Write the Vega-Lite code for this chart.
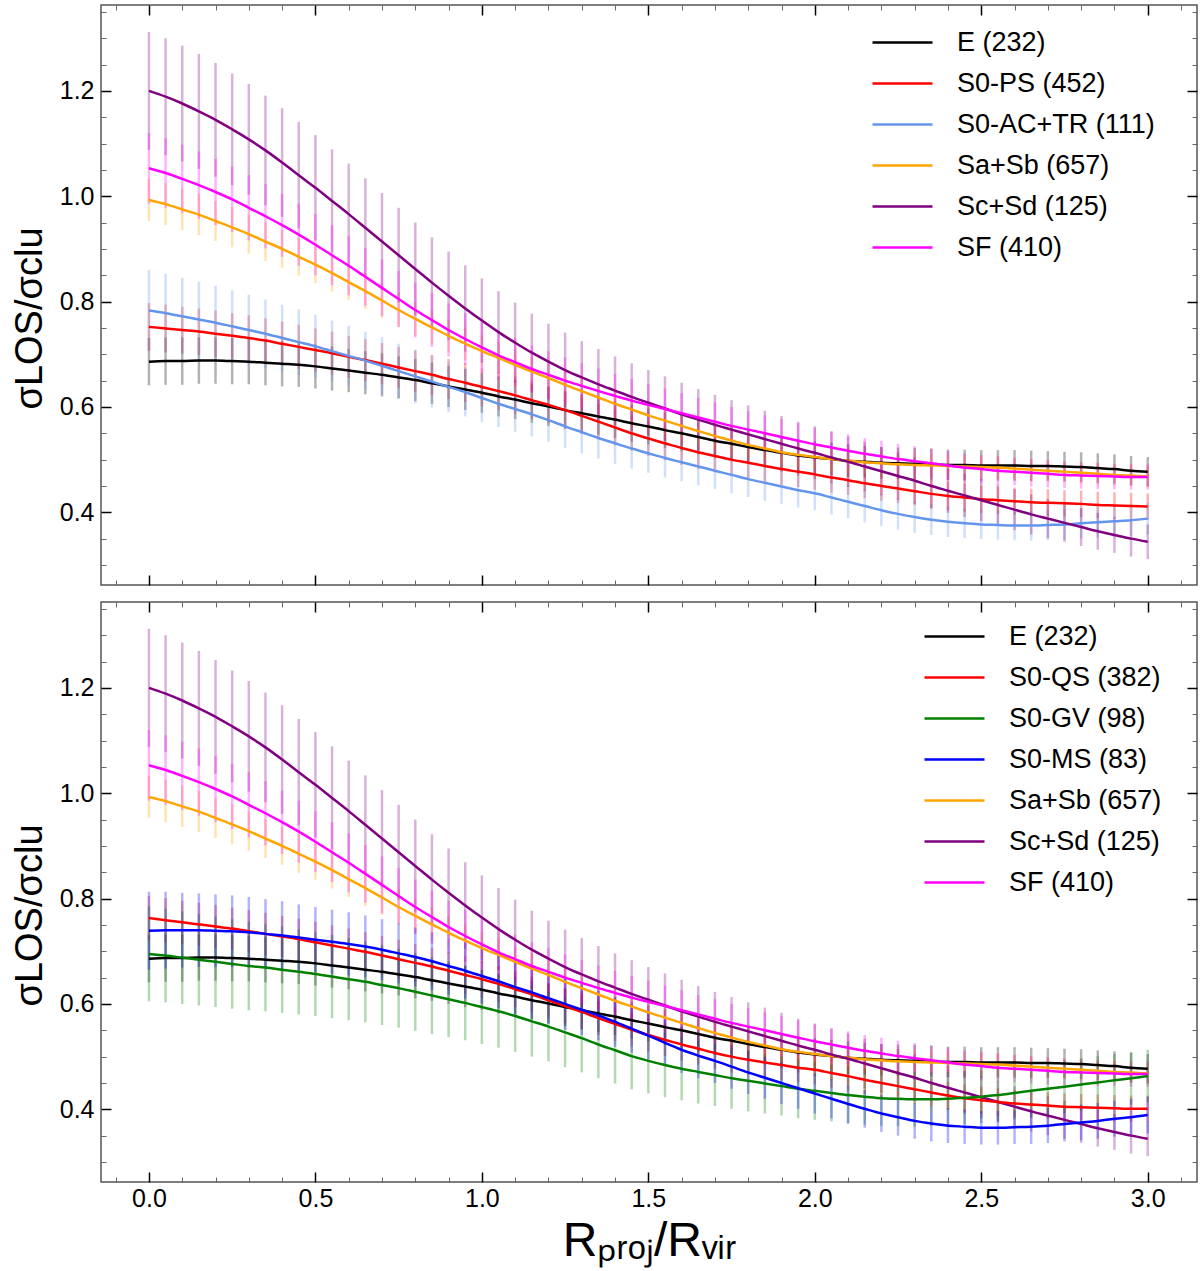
{
  "$schema": "https://vega.github.io/schema/vega-lite/v6.json",
  "description": "Line-of-sight velocity dispersion profiles by morphological type, two stacked panels.",
  "padding": {"left": 10, "top": 3, "right": 3, "bottom": 5},
  "spacing": 13,
  "config": {
    "font": "Liberation Sans",
    "view": {"stroke": "#555555", "strokeWidth": 1.5},
    "axis": {"grid": false, "domain": false, "labelFontSize": 25, "labelColor": "#000000", "titleColor": "#000000", "titleFontWeight": "normal", "tickColor": "#000000"},
    "legend": {"labelFontSize": 27, "labelColor": "#000000", "labelLimit": 0, "symbolType": "M-1.5,0H1.5", "symbolSize": 1600, "symbolStrokeWidth": 2.5, "symbolOpacity": 1, "labelOffset": 33, "rowPadding": 6, "padding": 0}
  },
  "datasets": {
    "sig": [
      {"s":"E (232)","x":0,"y":0.686,"e":0.045},{"s":"E (232)","x":0.05,"y":0.687,"e":0.045},{"s":"E (232)","x":0.1,"y":0.687,"e":0.045},{"s":"E (232)","x":0.15,"y":0.688,"e":0.044},{"s":"E (232)","x":0.2,"y":0.688,"e":0.044},{"s":"E (232)","x":0.25,"y":0.687,"e":0.044},{"s":"E (232)","x":0.3,"y":0.686,"e":0.043},{"s":"E (232)","x":0.35,"y":0.684,"e":0.043},{"s":"E (232)","x":0.4,"y":0.682,"e":0.043},{"s":"E (232)","x":0.45,"y":0.680,"e":0.042},
      {"s":"E (232)","x":0.5,"y":0.677,"e":0.042},{"s":"E (232)","x":0.55,"y":0.673,"e":0.042},{"s":"E (232)","x":0.6,"y":0.669,"e":0.041},{"s":"E (232)","x":0.65,"y":0.665,"e":0.041},{"s":"E (232)","x":0.7,"y":0.661,"e":0.041},{"s":"E (232)","x":0.75,"y":0.656,"e":0.040},{"s":"E (232)","x":0.8,"y":0.651,"e":0.040},{"s":"E (232)","x":0.85,"y":0.645,"e":0.039},{"s":"E (232)","x":0.9,"y":0.639,"e":0.039},{"s":"E (232)","x":0.95,"y":0.633,"e":0.039},
      {"s":"E (232)","x":1,"y":0.627,"e":0.038},{"s":"E (232)","x":1.05,"y":0.620,"e":0.038},{"s":"E (232)","x":1.1,"y":0.614,"e":0.037},{"s":"E (232)","x":1.15,"y":0.607,"e":0.037},{"s":"E (232)","x":1.2,"y":0.601,"e":0.037},{"s":"E (232)","x":1.25,"y":0.594,"e":0.036},{"s":"E (232)","x":1.3,"y":0.588,"e":0.036},{"s":"E (232)","x":1.35,"y":0.582,"e":0.035},{"s":"E (232)","x":1.4,"y":0.576,"e":0.035},{"s":"E (232)","x":1.45,"y":0.569,"e":0.035},
      {"s":"E (232)","x":1.5,"y":0.563,"e":0.034},{"s":"E (232)","x":1.55,"y":0.556,"e":0.034},{"s":"E (232)","x":1.6,"y":0.550,"e":0.034},{"s":"E (232)","x":1.65,"y":0.543,"e":0.033},{"s":"E (232)","x":1.7,"y":0.536,"e":0.033},{"s":"E (232)","x":1.75,"y":0.530,"e":0.033},{"s":"E (232)","x":1.8,"y":0.524,"e":0.032},{"s":"E (232)","x":1.85,"y":0.518,"e":0.032},{"s":"E (232)","x":1.9,"y":0.513,"e":0.032},{"s":"E (232)","x":1.95,"y":0.508,"e":0.031},
      {"s":"E (232)","x":2,"y":0.504,"e":0.031},{"s":"E (232)","x":2.05,"y":0.501,"e":0.031},{"s":"E (232)","x":2.1,"y":0.498,"e":0.031},{"s":"E (232)","x":2.15,"y":0.496,"e":0.030},{"s":"E (232)","x":2.2,"y":0.494,"e":0.030},{"s":"E (232)","x":2.25,"y":0.493,"e":0.030},{"s":"E (232)","x":2.3,"y":0.492,"e":0.030},{"s":"E (232)","x":2.35,"y":0.491,"e":0.030},{"s":"E (232)","x":2.4,"y":0.490,"e":0.029},{"s":"E (232)","x":2.45,"y":0.490,"e":0.029},
      {"s":"E (232)","x":2.5,"y":0.489,"e":0.029},{"s":"E (232)","x":2.55,"y":0.489,"e":0.029},{"s":"E (232)","x":2.6,"y":0.489,"e":0.029},{"s":"E (232)","x":2.65,"y":0.488,"e":0.029},{"s":"E (232)","x":2.7,"y":0.488,"e":0.028},{"s":"E (232)","x":2.75,"y":0.487,"e":0.028},{"s":"E (232)","x":2.8,"y":0.486,"e":0.028},{"s":"E (232)","x":2.85,"y":0.484,"e":0.028},{"s":"E (232)","x":2.9,"y":0.482,"e":0.028},{"s":"E (232)","x":2.95,"y":0.479,"e":0.028},{"s":"E (232)","x":3,"y":0.477,"e":0.028},

      {"s":"S0-PS (452)","x":0,"y":0.752,"e":0.045},{"s":"S0-PS (452)","x":0.05,"y":0.749,"e":0.045},{"s":"S0-PS (452)","x":0.1,"y":0.746,"e":0.044},{"s":"S0-PS (452)","x":0.15,"y":0.743,"e":0.044},{"s":"S0-PS (452)","x":0.2,"y":0.739,"e":0.044},{"s":"S0-PS (452)","x":0.25,"y":0.735,"e":0.043},{"s":"S0-PS (452)","x":0.3,"y":0.731,"e":0.043},{"s":"S0-PS (452)","x":0.35,"y":0.726,"e":0.042},{"s":"S0-PS (452)","x":0.4,"y":0.720,"e":0.042},{"s":"S0-PS (452)","x":0.45,"y":0.714,"e":0.042},
      {"s":"S0-PS (452)","x":0.5,"y":0.708,"e":0.041},{"s":"S0-PS (452)","x":0.55,"y":0.702,"e":0.041},{"s":"S0-PS (452)","x":0.6,"y":0.695,"e":0.040},{"s":"S0-PS (452)","x":0.65,"y":0.689,"e":0.040},{"s":"S0-PS (452)","x":0.7,"y":0.682,"e":0.039},{"s":"S0-PS (452)","x":0.75,"y":0.675,"e":0.039},{"s":"S0-PS (452)","x":0.8,"y":0.668,"e":0.039},{"s":"S0-PS (452)","x":0.85,"y":0.661,"e":0.038},{"s":"S0-PS (452)","x":0.9,"y":0.653,"e":0.038},{"s":"S0-PS (452)","x":0.95,"y":0.646,"e":0.037},
      {"s":"S0-PS (452)","x":1,"y":0.638,"e":0.037},{"s":"S0-PS (452)","x":1.05,"y":0.630,"e":0.036},{"s":"S0-PS (452)","x":1.1,"y":0.622,"e":0.036},{"s":"S0-PS (452)","x":1.15,"y":0.613,"e":0.036},{"s":"S0-PS (452)","x":1.2,"y":0.604,"e":0.035},{"s":"S0-PS (452)","x":1.25,"y":0.594,"e":0.035},{"s":"S0-PS (452)","x":1.3,"y":0.583,"e":0.034},{"s":"S0-PS (452)","x":1.35,"y":0.572,"e":0.034},{"s":"S0-PS (452)","x":1.4,"y":0.561,"e":0.034},{"s":"S0-PS (452)","x":1.45,"y":0.550,"e":0.033},
      {"s":"S0-PS (452)","x":1.5,"y":0.540,"e":0.033},{"s":"S0-PS (452)","x":1.55,"y":0.531,"e":0.032},{"s":"S0-PS (452)","x":1.6,"y":0.522,"e":0.032},{"s":"S0-PS (452)","x":1.65,"y":0.514,"e":0.032},{"s":"S0-PS (452)","x":1.7,"y":0.507,"e":0.031},{"s":"S0-PS (452)","x":1.75,"y":0.500,"e":0.031},{"s":"S0-PS (452)","x":1.8,"y":0.494,"e":0.030},{"s":"S0-PS (452)","x":1.85,"y":0.488,"e":0.030},{"s":"S0-PS (452)","x":1.9,"y":0.482,"e":0.030},{"s":"S0-PS (452)","x":1.95,"y":0.477,"e":0.029},
      {"s":"S0-PS (452)","x":2,"y":0.472,"e":0.029},{"s":"S0-PS (452)","x":2.05,"y":0.466,"e":0.029},{"s":"S0-PS (452)","x":2.1,"y":0.461,"e":0.028},{"s":"S0-PS (452)","x":2.15,"y":0.455,"e":0.028},{"s":"S0-PS (452)","x":2.2,"y":0.450,"e":0.028},{"s":"S0-PS (452)","x":2.25,"y":0.445,"e":0.028},{"s":"S0-PS (452)","x":2.3,"y":0.440,"e":0.027},{"s":"S0-PS (452)","x":2.35,"y":0.435,"e":0.027},{"s":"S0-PS (452)","x":2.4,"y":0.431,"e":0.027},{"s":"S0-PS (452)","x":2.45,"y":0.428,"e":0.027},
      {"s":"S0-PS (452)","x":2.5,"y":0.425,"e":0.026},{"s":"S0-PS (452)","x":2.55,"y":0.423,"e":0.026},{"s":"S0-PS (452)","x":2.6,"y":0.421,"e":0.026},{"s":"S0-PS (452)","x":2.65,"y":0.419,"e":0.026},{"s":"S0-PS (452)","x":2.7,"y":0.418,"e":0.026},{"s":"S0-PS (452)","x":2.75,"y":0.417,"e":0.025},{"s":"S0-PS (452)","x":2.8,"y":0.416,"e":0.025},{"s":"S0-PS (452)","x":2.85,"y":0.414,"e":0.025},{"s":"S0-PS (452)","x":2.9,"y":0.413,"e":0.025},{"s":"S0-PS (452)","x":2.95,"y":0.412,"e":0.025},{"s":"S0-PS (452)","x":3,"y":0.411,"e":0.025},

      {"s":"S0-AC+TR (111)","x":0,"y":0.783,"e":0.077},{"s":"S0-AC+TR (111)","x":0.05,"y":0.778,"e":0.075},{"s":"S0-AC+TR (111)","x":0.1,"y":0.772,"e":0.073},{"s":"S0-AC+TR (111)","x":0.15,"y":0.766,"e":0.072},{"s":"S0-AC+TR (111)","x":0.2,"y":0.760,"e":0.070},{"s":"S0-AC+TR (111)","x":0.25,"y":0.753,"e":0.068},{"s":"S0-AC+TR (111)","x":0.3,"y":0.746,"e":0.067},{"s":"S0-AC+TR (111)","x":0.35,"y":0.739,"e":0.065},{"s":"S0-AC+TR (111)","x":0.4,"y":0.731,"e":0.063},{"s":"S0-AC+TR (111)","x":0.45,"y":0.723,"e":0.062},
      {"s":"S0-AC+TR (111)","x":0.5,"y":0.715,"e":0.060},{"s":"S0-AC+TR (111)","x":0.55,"y":0.706,"e":0.058},{"s":"S0-AC+TR (111)","x":0.6,"y":0.697,"e":0.057},{"s":"S0-AC+TR (111)","x":0.65,"y":0.688,"e":0.055},{"s":"S0-AC+TR (111)","x":0.7,"y":0.678,"e":0.054},{"s":"S0-AC+TR (111)","x":0.75,"y":0.668,"e":0.052},{"s":"S0-AC+TR (111)","x":0.8,"y":0.658,"e":0.051},{"s":"S0-AC+TR (111)","x":0.85,"y":0.648,"e":0.049},{"s":"S0-AC+TR (111)","x":0.9,"y":0.638,"e":0.048},{"s":"S0-AC+TR (111)","x":0.95,"y":0.628,"e":0.046},
      {"s":"S0-AC+TR (111)","x":1,"y":0.617,"e":0.045},{"s":"S0-AC+TR (111)","x":1.05,"y":0.606,"e":0.044},{"s":"S0-AC+TR (111)","x":1.1,"y":0.596,"e":0.043},{"s":"S0-AC+TR (111)","x":1.15,"y":0.586,"e":0.042},{"s":"S0-AC+TR (111)","x":1.2,"y":0.575,"e":0.041},{"s":"S0-AC+TR (111)","x":1.25,"y":0.563,"e":0.041},{"s":"S0-AC+TR (111)","x":1.3,"y":0.552,"e":0.040},{"s":"S0-AC+TR (111)","x":1.35,"y":0.541,"e":0.039},{"s":"S0-AC+TR (111)","x":1.4,"y":0.531,"e":0.039},{"s":"S0-AC+TR (111)","x":1.45,"y":0.521,"e":0.038},
      {"s":"S0-AC+TR (111)","x":1.5,"y":0.512,"e":0.037},{"s":"S0-AC+TR (111)","x":1.55,"y":0.503,"e":0.037},{"s":"S0-AC+TR (111)","x":1.6,"y":0.495,"e":0.036},{"s":"S0-AC+TR (111)","x":1.65,"y":0.487,"e":0.036},{"s":"S0-AC+TR (111)","x":1.7,"y":0.479,"e":0.035},{"s":"S0-AC+TR (111)","x":1.75,"y":0.471,"e":0.035},{"s":"S0-AC+TR (111)","x":1.8,"y":0.463,"e":0.034},{"s":"S0-AC+TR (111)","x":1.85,"y":0.456,"e":0.034},{"s":"S0-AC+TR (111)","x":1.9,"y":0.449,"e":0.033},{"s":"S0-AC+TR (111)","x":1.95,"y":0.442,"e":0.033},
      {"s":"S0-AC+TR (111)","x":2,"y":0.436,"e":0.032},{"s":"S0-AC+TR (111)","x":2.05,"y":0.428,"e":0.032},{"s":"S0-AC+TR (111)","x":2.1,"y":0.420,"e":0.031},{"s":"S0-AC+TR (111)","x":2.15,"y":0.412,"e":0.031},{"s":"S0-AC+TR (111)","x":2.2,"y":0.404,"e":0.030},{"s":"S0-AC+TR (111)","x":2.25,"y":0.397,"e":0.030},{"s":"S0-AC+TR (111)","x":2.3,"y":0.391,"e":0.030},{"s":"S0-AC+TR (111)","x":2.35,"y":0.386,"e":0.029},{"s":"S0-AC+TR (111)","x":2.4,"y":0.382,"e":0.029},{"s":"S0-AC+TR (111)","x":2.45,"y":0.379,"e":0.028},
      {"s":"S0-AC+TR (111)","x":2.5,"y":0.377,"e":0.028},{"s":"S0-AC+TR (111)","x":2.55,"y":0.376,"e":0.028},{"s":"S0-AC+TR (111)","x":2.6,"y":0.375,"e":0.028},{"s":"S0-AC+TR (111)","x":2.65,"y":0.375,"e":0.029},{"s":"S0-AC+TR (111)","x":2.7,"y":0.376,"e":0.029},{"s":"S0-AC+TR (111)","x":2.75,"y":0.377,"e":0.029},{"s":"S0-AC+TR (111)","x":2.8,"y":0.379,"e":0.029},{"s":"S0-AC+TR (111)","x":2.85,"y":0.381,"e":0.029},{"s":"S0-AC+TR (111)","x":2.9,"y":0.383,"e":0.030},{"s":"S0-AC+TR (111)","x":2.95,"y":0.385,"e":0.030},{"s":"S0-AC+TR (111)","x":3,"y":0.388,"e":0.030},

      {"s":"Sa+Sb (657)","x":0,"y":0.993,"e":0.040},{"s":"Sa+Sb (657)","x":0.05,"y":0.985,"e":0.040},{"s":"Sa+Sb (657)","x":0.1,"y":0.975,"e":0.039},{"s":"Sa+Sb (657)","x":0.15,"y":0.965,"e":0.039},{"s":"Sa+Sb (657)","x":0.2,"y":0.953,"e":0.038},{"s":"Sa+Sb (657)","x":0.25,"y":0.941,"e":0.038},{"s":"Sa+Sb (657)","x":0.3,"y":0.928,"e":0.037},{"s":"Sa+Sb (657)","x":0.35,"y":0.914,"e":0.037},{"s":"Sa+Sb (657)","x":0.4,"y":0.900,"e":0.036},{"s":"Sa+Sb (657)","x":0.45,"y":0.885,"e":0.036},
      {"s":"Sa+Sb (657)","x":0.5,"y":0.870,"e":0.035},{"s":"Sa+Sb (657)","x":0.55,"y":0.854,"e":0.035},{"s":"Sa+Sb (657)","x":0.6,"y":0.837,"e":0.034},{"s":"Sa+Sb (657)","x":0.65,"y":0.820,"e":0.034},{"s":"Sa+Sb (657)","x":0.7,"y":0.802,"e":0.033},{"s":"Sa+Sb (657)","x":0.75,"y":0.784,"e":0.033},{"s":"Sa+Sb (657)","x":0.8,"y":0.767,"e":0.032},{"s":"Sa+Sb (657)","x":0.85,"y":0.751,"e":0.032},{"s":"Sa+Sb (657)","x":0.9,"y":0.735,"e":0.031},{"s":"Sa+Sb (657)","x":0.95,"y":0.720,"e":0.031},
      {"s":"Sa+Sb (657)","x":1,"y":0.706,"e":0.030},{"s":"Sa+Sb (657)","x":1.05,"y":0.693,"e":0.030},{"s":"Sa+Sb (657)","x":1.1,"y":0.680,"e":0.029},{"s":"Sa+Sb (657)","x":1.15,"y":0.667,"e":0.029},{"s":"Sa+Sb (657)","x":1.2,"y":0.655,"e":0.028},{"s":"Sa+Sb (657)","x":1.25,"y":0.642,"e":0.028},{"s":"Sa+Sb (657)","x":1.3,"y":0.630,"e":0.028},{"s":"Sa+Sb (657)","x":1.35,"y":0.618,"e":0.027},{"s":"Sa+Sb (657)","x":1.4,"y":0.606,"e":0.027},{"s":"Sa+Sb (657)","x":1.45,"y":0.595,"e":0.026},
      {"s":"Sa+Sb (657)","x":1.5,"y":0.584,"e":0.026},{"s":"Sa+Sb (657)","x":1.55,"y":0.574,"e":0.026},{"s":"Sa+Sb (657)","x":1.6,"y":0.564,"e":0.025},{"s":"Sa+Sb (657)","x":1.65,"y":0.554,"e":0.025},{"s":"Sa+Sb (657)","x":1.7,"y":0.545,"e":0.025},{"s":"Sa+Sb (657)","x":1.75,"y":0.536,"e":0.024},{"s":"Sa+Sb (657)","x":1.8,"y":0.528,"e":0.024},{"s":"Sa+Sb (657)","x":1.85,"y":0.521,"e":0.024},{"s":"Sa+Sb (657)","x":1.9,"y":0.514,"e":0.023},{"s":"Sa+Sb (657)","x":1.95,"y":0.509,"e":0.023},
      {"s":"Sa+Sb (657)","x":2,"y":0.505,"e":0.023},{"s":"Sa+Sb (657)","x":2.05,"y":0.501,"e":0.023},{"s":"Sa+Sb (657)","x":2.1,"y":0.498,"e":0.022},{"s":"Sa+Sb (657)","x":2.15,"y":0.495,"e":0.022},{"s":"Sa+Sb (657)","x":2.2,"y":0.493,"e":0.022},{"s":"Sa+Sb (657)","x":2.25,"y":0.491,"e":0.022},{"s":"Sa+Sb (657)","x":2.3,"y":0.490,"e":0.022},{"s":"Sa+Sb (657)","x":2.35,"y":0.489,"e":0.021},{"s":"Sa+Sb (657)","x":2.4,"y":0.488,"e":0.021},{"s":"Sa+Sb (657)","x":2.45,"y":0.487,"e":0.021},
      {"s":"Sa+Sb (657)","x":2.5,"y":0.486,"e":0.021},{"s":"Sa+Sb (657)","x":2.55,"y":0.485,"e":0.021},{"s":"Sa+Sb (657)","x":2.6,"y":0.483,"e":0.021},{"s":"Sa+Sb (657)","x":2.65,"y":0.481,"e":0.021},{"s":"Sa+Sb (657)","x":2.7,"y":0.479,"e":0.020},{"s":"Sa+Sb (657)","x":2.75,"y":0.477,"e":0.020},{"s":"Sa+Sb (657)","x":2.8,"y":0.475,"e":0.020},{"s":"Sa+Sb (657)","x":2.85,"y":0.473,"e":0.020},{"s":"Sa+Sb (657)","x":2.9,"y":0.471,"e":0.020},{"s":"Sa+Sb (657)","x":2.95,"y":0.470,"e":0.020},{"s":"Sa+Sb (657)","x":3,"y":0.468,"e":0.020},

      {"s":"Sc+Sd (125)","x":0,"y":1.200,"e":0.112},{"s":"Sc+Sd (125)","x":0.05,"y":1.189,"e":0.111},{"s":"Sc+Sd (125)","x":0.1,"y":1.176,"e":0.110},{"s":"Sc+Sd (125)","x":0.15,"y":1.161,"e":0.109},{"s":"Sc+Sd (125)","x":0.2,"y":1.145,"e":0.108},{"s":"Sc+Sd (125)","x":0.25,"y":1.127,"e":0.106},{"s":"Sc+Sd (125)","x":0.3,"y":1.108,"e":0.105},{"s":"Sc+Sd (125)","x":0.35,"y":1.087,"e":0.104},{"s":"Sc+Sd (125)","x":0.4,"y":1.064,"e":0.103},{"s":"Sc+Sd (125)","x":0.45,"y":1.040,"e":0.101},
      {"s":"Sc+Sd (125)","x":0.5,"y":1.016,"e":0.100},{"s":"Sc+Sd (125)","x":0.55,"y":0.991,"e":0.098},{"s":"Sc+Sd (125)","x":0.6,"y":0.966,"e":0.096},{"s":"Sc+Sd (125)","x":0.65,"y":0.940,"e":0.094},{"s":"Sc+Sd (125)","x":0.7,"y":0.914,"e":0.092},{"s":"Sc+Sd (125)","x":0.75,"y":0.888,"e":0.090},{"s":"Sc+Sd (125)","x":0.8,"y":0.862,"e":0.088},{"s":"Sc+Sd (125)","x":0.85,"y":0.836,"e":0.086},{"s":"Sc+Sd (125)","x":0.9,"y":0.811,"e":0.084},{"s":"Sc+Sd (125)","x":0.95,"y":0.787,"e":0.082},
      {"s":"Sc+Sd (125)","x":1,"y":0.764,"e":0.080},{"s":"Sc+Sd (125)","x":1.05,"y":0.742,"e":0.078},{"s":"Sc+Sd (125)","x":1.1,"y":0.722,"e":0.076},{"s":"Sc+Sd (125)","x":1.15,"y":0.703,"e":0.074},{"s":"Sc+Sd (125)","x":1.2,"y":0.686,"e":0.072},{"s":"Sc+Sd (125)","x":1.25,"y":0.670,"e":0.071},{"s":"Sc+Sd (125)","x":1.3,"y":0.656,"e":0.069},{"s":"Sc+Sd (125)","x":1.35,"y":0.643,"e":0.067},{"s":"Sc+Sd (125)","x":1.4,"y":0.631,"e":0.065},{"s":"Sc+Sd (125)","x":1.45,"y":0.619,"e":0.064},
      {"s":"Sc+Sd (125)","x":1.5,"y":0.608,"e":0.062},{"s":"Sc+Sd (125)","x":1.55,"y":0.597,"e":0.061},{"s":"Sc+Sd (125)","x":1.6,"y":0.586,"e":0.060},{"s":"Sc+Sd (125)","x":1.65,"y":0.576,"e":0.058},{"s":"Sc+Sd (125)","x":1.7,"y":0.566,"e":0.057},{"s":"Sc+Sd (125)","x":1.75,"y":0.557,"e":0.056},{"s":"Sc+Sd (125)","x":1.8,"y":0.548,"e":0.055},{"s":"Sc+Sd (125)","x":1.85,"y":0.539,"e":0.054},{"s":"Sc+Sd (125)","x":1.9,"y":0.530,"e":0.053},{"s":"Sc+Sd (125)","x":1.95,"y":0.521,"e":0.051},
      {"s":"Sc+Sd (125)","x":2,"y":0.513,"e":0.050},{"s":"Sc+Sd (125)","x":2.05,"y":0.504,"e":0.049},{"s":"Sc+Sd (125)","x":2.1,"y":0.496,"e":0.048},{"s":"Sc+Sd (125)","x":2.15,"y":0.487,"e":0.047},{"s":"Sc+Sd (125)","x":2.2,"y":0.478,"e":0.046},{"s":"Sc+Sd (125)","x":2.25,"y":0.469,"e":0.045},{"s":"Sc+Sd (125)","x":2.3,"y":0.460,"e":0.044},{"s":"Sc+Sd (125)","x":2.35,"y":0.450,"e":0.043},{"s":"Sc+Sd (125)","x":2.4,"y":0.441,"e":0.042},{"s":"Sc+Sd (125)","x":2.45,"y":0.432,"e":0.041},
      {"s":"Sc+Sd (125)","x":2.5,"y":0.423,"e":0.040},{"s":"Sc+Sd (125)","x":2.55,"y":0.414,"e":0.039},{"s":"Sc+Sd (125)","x":2.6,"y":0.405,"e":0.039},{"s":"Sc+Sd (125)","x":2.65,"y":0.396,"e":0.038},{"s":"Sc+Sd (125)","x":2.7,"y":0.388,"e":0.037},{"s":"Sc+Sd (125)","x":2.75,"y":0.380,"e":0.036},{"s":"Sc+Sd (125)","x":2.8,"y":0.372,"e":0.036},{"s":"Sc+Sd (125)","x":2.85,"y":0.364,"e":0.035},{"s":"Sc+Sd (125)","x":2.9,"y":0.357,"e":0.034},{"s":"Sc+Sd (125)","x":2.95,"y":0.350,"e":0.034},{"s":"Sc+Sd (125)","x":3,"y":0.344,"e":0.033},

      {"s":"SF (410)","x":0,"y":1.053,"e":0.067},{"s":"SF (410)","x":0.05,"y":1.044,"e":0.066},{"s":"SF (410)","x":0.1,"y":1.033,"e":0.065},{"s":"SF (410)","x":0.15,"y":1.021,"e":0.064},{"s":"SF (410)","x":0.2,"y":1.008,"e":0.063},{"s":"SF (410)","x":0.25,"y":0.994,"e":0.062},{"s":"SF (410)","x":0.3,"y":0.978,"e":0.062},{"s":"SF (410)","x":0.35,"y":0.962,"e":0.061},{"s":"SF (410)","x":0.4,"y":0.945,"e":0.060},{"s":"SF (410)","x":0.45,"y":0.927,"e":0.059},
      {"s":"SF (410)","x":0.5,"y":0.908,"e":0.058},{"s":"SF (410)","x":0.55,"y":0.888,"e":0.057},{"s":"SF (410)","x":0.6,"y":0.868,"e":0.056},{"s":"SF (410)","x":0.65,"y":0.847,"e":0.055},{"s":"SF (410)","x":0.7,"y":0.826,"e":0.054},{"s":"SF (410)","x":0.75,"y":0.805,"e":0.053},{"s":"SF (410)","x":0.8,"y":0.784,"e":0.052},{"s":"SF (410)","x":0.85,"y":0.765,"e":0.051},{"s":"SF (410)","x":0.9,"y":0.746,"e":0.050},{"s":"SF (410)","x":0.95,"y":0.729,"e":0.049},
      {"s":"SF (410)","x":1,"y":0.713,"e":0.048},{"s":"SF (410)","x":1.05,"y":0.698,"e":0.047},{"s":"SF (410)","x":1.1,"y":0.685,"e":0.046},{"s":"SF (410)","x":1.15,"y":0.672,"e":0.045},{"s":"SF (410)","x":1.2,"y":0.661,"e":0.045},{"s":"SF (410)","x":1.25,"y":0.650,"e":0.044},{"s":"SF (410)","x":1.3,"y":0.640,"e":0.043},{"s":"SF (410)","x":1.35,"y":0.630,"e":0.043},{"s":"SF (410)","x":1.4,"y":0.621,"e":0.042},{"s":"SF (410)","x":1.45,"y":0.612,"e":0.041},
      {"s":"SF (410)","x":1.5,"y":0.604,"e":0.040},{"s":"SF (410)","x":1.55,"y":0.596,"e":0.039},{"s":"SF (410)","x":1.6,"y":0.588,"e":0.038},{"s":"SF (410)","x":1.65,"y":0.580,"e":0.037},{"s":"SF (410)","x":1.7,"y":0.572,"e":0.037},{"s":"SF (410)","x":1.75,"y":0.564,"e":0.036},{"s":"SF (410)","x":1.8,"y":0.557,"e":0.035},{"s":"SF (410)","x":1.85,"y":0.550,"e":0.034},{"s":"SF (410)","x":1.9,"y":0.543,"e":0.034},{"s":"SF (410)","x":1.95,"y":0.536,"e":0.033},
      {"s":"SF (410)","x":2,"y":0.529,"e":0.032},{"s":"SF (410)","x":2.05,"y":0.523,"e":0.031},{"s":"SF (410)","x":2.1,"y":0.517,"e":0.031},{"s":"SF (410)","x":2.15,"y":0.511,"e":0.030},{"s":"SF (410)","x":2.2,"y":0.506,"e":0.030},{"s":"SF (410)","x":2.25,"y":0.501,"e":0.029},{"s":"SF (410)","x":2.3,"y":0.497,"e":0.029},{"s":"SF (410)","x":2.35,"y":0.493,"e":0.028},{"s":"SF (410)","x":2.4,"y":0.489,"e":0.028},{"s":"SF (410)","x":2.45,"y":0.485,"e":0.027},
      {"s":"SF (410)","x":2.5,"y":0.482,"e":0.027},{"s":"SF (410)","x":2.55,"y":0.479,"e":0.027},{"s":"SF (410)","x":2.6,"y":0.477,"e":0.026},{"s":"SF (410)","x":2.65,"y":0.475,"e":0.026},{"s":"SF (410)","x":2.7,"y":0.473,"e":0.026},{"s":"SF (410)","x":2.75,"y":0.471,"e":0.025},{"s":"SF (410)","x":2.8,"y":0.470,"e":0.025},{"s":"SF (410)","x":2.85,"y":0.469,"e":0.025},{"s":"SF (410)","x":2.9,"y":0.468,"e":0.024},{"s":"SF (410)","x":2.95,"y":0.467,"e":0.024},{"s":"SF (410)","x":3,"y":0.467,"e":0.024},

      {"s":"S0-QS (382)","x":0,"y":0.763,"e":0.042},{"s":"S0-QS (382)","x":0.05,"y":0.759,"e":0.042},{"s":"S0-QS (382)","x":0.1,"y":0.755,"e":0.041},{"s":"S0-QS (382)","x":0.15,"y":0.751,"e":0.041},{"s":"S0-QS (382)","x":0.2,"y":0.747,"e":0.041},{"s":"S0-QS (382)","x":0.25,"y":0.743,"e":0.040},{"s":"S0-QS (382)","x":0.3,"y":0.738,"e":0.040},{"s":"S0-QS (382)","x":0.35,"y":0.733,"e":0.040},{"s":"S0-QS (382)","x":0.4,"y":0.728,"e":0.039},{"s":"S0-QS (382)","x":0.45,"y":0.723,"e":0.039},
      {"s":"S0-QS (382)","x":0.5,"y":0.717,"e":0.039},{"s":"S0-QS (382)","x":0.55,"y":0.711,"e":0.038},{"s":"S0-QS (382)","x":0.6,"y":0.705,"e":0.038},{"s":"S0-QS (382)","x":0.65,"y":0.699,"e":0.037},{"s":"S0-QS (382)","x":0.7,"y":0.692,"e":0.037},{"s":"S0-QS (382)","x":0.75,"y":0.685,"e":0.037},{"s":"S0-QS (382)","x":0.8,"y":0.678,"e":0.036},{"s":"S0-QS (382)","x":0.85,"y":0.671,"e":0.036},{"s":"S0-QS (382)","x":0.9,"y":0.663,"e":0.036},{"s":"S0-QS (382)","x":0.95,"y":0.655,"e":0.035},
      {"s":"S0-QS (382)","x":1,"y":0.647,"e":0.035},{"s":"S0-QS (382)","x":1.05,"y":0.638,"e":0.034},{"s":"S0-QS (382)","x":1.1,"y":0.628,"e":0.034},{"s":"S0-QS (382)","x":1.15,"y":0.618,"e":0.034},{"s":"S0-QS (382)","x":1.2,"y":0.607,"e":0.033},{"s":"S0-QS (382)","x":1.25,"y":0.596,"e":0.033},{"s":"S0-QS (382)","x":1.3,"y":0.585,"e":0.033},{"s":"S0-QS (382)","x":1.35,"y":0.573,"e":0.032},{"s":"S0-QS (382)","x":1.4,"y":0.562,"e":0.032},{"s":"S0-QS (382)","x":1.45,"y":0.551,"e":0.032},
      {"s":"S0-QS (382)","x":1.5,"y":0.541,"e":0.031},{"s":"S0-QS (382)","x":1.55,"y":0.532,"e":0.031},{"s":"S0-QS (382)","x":1.6,"y":0.523,"e":0.031},{"s":"S0-QS (382)","x":1.65,"y":0.515,"e":0.030},{"s":"S0-QS (382)","x":1.7,"y":0.507,"e":0.030},{"s":"S0-QS (382)","x":1.75,"y":0.500,"e":0.030},{"s":"S0-QS (382)","x":1.8,"y":0.494,"e":0.029},{"s":"S0-QS (382)","x":1.85,"y":0.489,"e":0.029},{"s":"S0-QS (382)","x":1.9,"y":0.484,"e":0.029},{"s":"S0-QS (382)","x":1.95,"y":0.479,"e":0.028},
      {"s":"S0-QS (382)","x":2,"y":0.475,"e":0.028},{"s":"S0-QS (382)","x":2.05,"y":0.469,"e":0.028},{"s":"S0-QS (382)","x":2.1,"y":0.463,"e":0.028},{"s":"S0-QS (382)","x":2.15,"y":0.456,"e":0.027},{"s":"S0-QS (382)","x":2.2,"y":0.450,"e":0.027},{"s":"S0-QS (382)","x":2.25,"y":0.444,"e":0.027},{"s":"S0-QS (382)","x":2.3,"y":0.438,"e":0.027},{"s":"S0-QS (382)","x":2.35,"y":0.432,"e":0.026},{"s":"S0-QS (382)","x":2.4,"y":0.426,"e":0.026},{"s":"S0-QS (382)","x":2.45,"y":0.421,"e":0.026},
      {"s":"S0-QS (382)","x":2.5,"y":0.417,"e":0.026},{"s":"S0-QS (382)","x":2.55,"y":0.414,"e":0.026},{"s":"S0-QS (382)","x":2.6,"y":0.411,"e":0.026},{"s":"S0-QS (382)","x":2.65,"y":0.409,"e":0.025},{"s":"S0-QS (382)","x":2.7,"y":0.407,"e":0.025},{"s":"S0-QS (382)","x":2.75,"y":0.405,"e":0.025},{"s":"S0-QS (382)","x":2.8,"y":0.404,"e":0.025},{"s":"S0-QS (382)","x":2.85,"y":0.403,"e":0.025},{"s":"S0-QS (382)","x":2.9,"y":0.402,"e":0.025},{"s":"S0-QS (382)","x":2.95,"y":0.401,"e":0.025},{"s":"S0-QS (382)","x":3,"y":0.401,"e":0.025},

      {"s":"S0-GV (98)","x":0,"y":0.695,"e":0.090},{"s":"S0-GV (98)","x":0.05,"y":0.692,"e":0.089},{"s":"S0-GV (98)","x":0.1,"y":0.688,"e":0.088},{"s":"S0-GV (98)","x":0.15,"y":0.684,"e":0.087},{"s":"S0-GV (98)","x":0.2,"y":0.680,"e":0.086},{"s":"S0-GV (98)","x":0.25,"y":0.676,"e":0.085},{"s":"S0-GV (98)","x":0.3,"y":0.672,"e":0.084},{"s":"S0-GV (98)","x":0.35,"y":0.669,"e":0.083},{"s":"S0-GV (98)","x":0.4,"y":0.665,"e":0.082},{"s":"S0-GV (98)","x":0.45,"y":0.661,"e":0.081},
      {"s":"S0-GV (98)","x":0.5,"y":0.657,"e":0.080},{"s":"S0-GV (98)","x":0.55,"y":0.652,"e":0.079},{"s":"S0-GV (98)","x":0.6,"y":0.647,"e":0.078},{"s":"S0-GV (98)","x":0.65,"y":0.642,"e":0.077},{"s":"S0-GV (98)","x":0.7,"y":0.636,"e":0.076},{"s":"S0-GV (98)","x":0.75,"y":0.630,"e":0.075},{"s":"S0-GV (98)","x":0.8,"y":0.623,"e":0.074},{"s":"S0-GV (98)","x":0.85,"y":0.616,"e":0.073},{"s":"S0-GV (98)","x":0.9,"y":0.609,"e":0.072},{"s":"S0-GV (98)","x":0.95,"y":0.602,"e":0.071},
      {"s":"S0-GV (98)","x":1,"y":0.594,"e":0.070},{"s":"S0-GV (98)","x":1.05,"y":0.586,"e":0.069},{"s":"S0-GV (98)","x":1.1,"y":0.577,"e":0.068},{"s":"S0-GV (98)","x":1.15,"y":0.567,"e":0.067},{"s":"S0-GV (98)","x":1.2,"y":0.557,"e":0.066},{"s":"S0-GV (98)","x":1.25,"y":0.546,"e":0.066},{"s":"S0-GV (98)","x":1.3,"y":0.535,"e":0.065},{"s":"S0-GV (98)","x":1.35,"y":0.523,"e":0.064},{"s":"S0-GV (98)","x":1.4,"y":0.512,"e":0.063},{"s":"S0-GV (98)","x":1.45,"y":0.501,"e":0.063},
      {"s":"S0-GV (98)","x":1.5,"y":0.492,"e":0.062},{"s":"S0-GV (98)","x":1.55,"y":0.484,"e":0.061},{"s":"S0-GV (98)","x":1.6,"y":0.477,"e":0.060},{"s":"S0-GV (98)","x":1.65,"y":0.471,"e":0.060},{"s":"S0-GV (98)","x":1.7,"y":0.465,"e":0.059},{"s":"S0-GV (98)","x":1.75,"y":0.459,"e":0.058},{"s":"S0-GV (98)","x":1.8,"y":0.454,"e":0.058},{"s":"S0-GV (98)","x":1.85,"y":0.449,"e":0.057},{"s":"S0-GV (98)","x":1.9,"y":0.444,"e":0.056},{"s":"S0-GV (98)","x":1.95,"y":0.439,"e":0.056},
      {"s":"S0-GV (98)","x":2,"y":0.435,"e":0.055},{"s":"S0-GV (98)","x":2.05,"y":0.431,"e":0.054},{"s":"S0-GV (98)","x":2.1,"y":0.427,"e":0.054},{"s":"S0-GV (98)","x":2.15,"y":0.424,"e":0.053},{"s":"S0-GV (98)","x":2.2,"y":0.421,"e":0.053},{"s":"S0-GV (98)","x":2.25,"y":0.420,"e":0.052},{"s":"S0-GV (98)","x":2.3,"y":0.419,"e":0.052},{"s":"S0-GV (98)","x":2.35,"y":0.419,"e":0.051},{"s":"S0-GV (98)","x":2.4,"y":0.420,"e":0.051},{"s":"S0-GV (98)","x":2.45,"y":0.422,"e":0.050},
      {"s":"S0-GV (98)","x":2.5,"y":0.424,"e":0.050},{"s":"S0-GV (98)","x":2.55,"y":0.427,"e":0.050},{"s":"S0-GV (98)","x":2.6,"y":0.431,"e":0.050},{"s":"S0-GV (98)","x":2.65,"y":0.435,"e":0.050},{"s":"S0-GV (98)","x":2.7,"y":0.439,"e":0.050},{"s":"S0-GV (98)","x":2.75,"y":0.443,"e":0.050},{"s":"S0-GV (98)","x":2.8,"y":0.447,"e":0.050},{"s":"S0-GV (98)","x":2.85,"y":0.451,"e":0.050},{"s":"S0-GV (98)","x":2.9,"y":0.455,"e":0.050},{"s":"S0-GV (98)","x":2.95,"y":0.459,"e":0.050},{"s":"S0-GV (98)","x":3,"y":0.463,"e":0.050},

      {"s":"S0-MS (83)","x":0,"y":0.739,"e":0.074},{"s":"S0-MS (83)","x":0.05,"y":0.740,"e":0.073},{"s":"S0-MS (83)","x":0.1,"y":0.740,"e":0.071},{"s":"S0-MS (83)","x":0.15,"y":0.740,"e":0.070},{"s":"S0-MS (83)","x":0.2,"y":0.739,"e":0.069},{"s":"S0-MS (83)","x":0.25,"y":0.738,"e":0.068},{"s":"S0-MS (83)","x":0.3,"y":0.736,"e":0.067},{"s":"S0-MS (83)","x":0.35,"y":0.733,"e":0.066},{"s":"S0-MS (83)","x":0.4,"y":0.730,"e":0.065},{"s":"S0-MS (83)","x":0.45,"y":0.726,"e":0.063},
      {"s":"S0-MS (83)","x":0.5,"y":0.722,"e":0.062},{"s":"S0-MS (83)","x":0.55,"y":0.718,"e":0.061},{"s":"S0-MS (83)","x":0.6,"y":0.714,"e":0.060},{"s":"S0-MS (83)","x":0.65,"y":0.709,"e":0.059},{"s":"S0-MS (83)","x":0.7,"y":0.703,"e":0.058},{"s":"S0-MS (83)","x":0.75,"y":0.696,"e":0.057},{"s":"S0-MS (83)","x":0.8,"y":0.689,"e":0.056},{"s":"S0-MS (83)","x":0.85,"y":0.681,"e":0.055},{"s":"S0-MS (83)","x":0.9,"y":0.672,"e":0.054},{"s":"S0-MS (83)","x":0.95,"y":0.663,"e":0.053},
      {"s":"S0-MS (83)","x":1,"y":0.653,"e":0.052},{"s":"S0-MS (83)","x":1.05,"y":0.643,"e":0.051},{"s":"S0-MS (83)","x":1.1,"y":0.632,"e":0.051},{"s":"S0-MS (83)","x":1.15,"y":0.622,"e":0.050},{"s":"S0-MS (83)","x":1.2,"y":0.611,"e":0.049},{"s":"S0-MS (83)","x":1.25,"y":0.600,"e":0.049},{"s":"S0-MS (83)","x":1.3,"y":0.589,"e":0.048},{"s":"S0-MS (83)","x":1.35,"y":0.578,"e":0.047},{"s":"S0-MS (83)","x":1.4,"y":0.566,"e":0.047},{"s":"S0-MS (83)","x":1.45,"y":0.553,"e":0.046},
      {"s":"S0-MS (83)","x":1.5,"y":0.540,"e":0.045},{"s":"S0-MS (83)","x":1.55,"y":0.526,"e":0.044},{"s":"S0-MS (83)","x":1.6,"y":0.513,"e":0.044},{"s":"S0-MS (83)","x":1.65,"y":0.502,"e":0.043},{"s":"S0-MS (83)","x":1.7,"y":0.492,"e":0.042},{"s":"S0-MS (83)","x":1.75,"y":0.481,"e":0.042},{"s":"S0-MS (83)","x":1.8,"y":0.470,"e":0.041},{"s":"S0-MS (83)","x":1.85,"y":0.460,"e":0.040},{"s":"S0-MS (83)","x":1.9,"y":0.450,"e":0.040},{"s":"S0-MS (83)","x":1.95,"y":0.440,"e":0.039},
      {"s":"S0-MS (83)","x":2,"y":0.430,"e":0.038},{"s":"S0-MS (83)","x":2.05,"y":0.420,"e":0.037},{"s":"S0-MS (83)","x":2.1,"y":0.410,"e":0.037},{"s":"S0-MS (83)","x":2.15,"y":0.401,"e":0.036},{"s":"S0-MS (83)","x":2.2,"y":0.392,"e":0.035},{"s":"S0-MS (83)","x":2.25,"y":0.385,"e":0.035},{"s":"S0-MS (83)","x":2.3,"y":0.378,"e":0.034},{"s":"S0-MS (83)","x":2.35,"y":0.373,"e":0.034},{"s":"S0-MS (83)","x":2.4,"y":0.369,"e":0.033},{"s":"S0-MS (83)","x":2.45,"y":0.367,"e":0.033},
      {"s":"S0-MS (83)","x":2.5,"y":0.365,"e":0.032},{"s":"S0-MS (83)","x":2.55,"y":0.365,"e":0.032},{"s":"S0-MS (83)","x":2.6,"y":0.366,"e":0.032},{"s":"S0-MS (83)","x":2.65,"y":0.367,"e":0.033},{"s":"S0-MS (83)","x":2.7,"y":0.369,"e":0.033},{"s":"S0-MS (83)","x":2.75,"y":0.372,"e":0.033},{"s":"S0-MS (83)","x":2.8,"y":0.375,"e":0.034},{"s":"S0-MS (83)","x":2.85,"y":0.378,"e":0.034},{"s":"S0-MS (83)","x":2.9,"y":0.382,"e":0.034},{"s":"S0-MS (83)","x":2.95,"y":0.385,"e":0.035},{"s":"S0-MS (83)","x":3,"y":0.389,"e":0.035}
    ]
  },
  "data": {"name": "sig"},
  "vconcat": [
    {
      "width": 1096,
      "height": 580,
      "transform": [{"filter": {"field": "s", "oneOf": ["E (232)", "S0-PS (452)", "S0-AC+TR (111)", "Sa+Sb (657)", "Sc+Sd (125)", "SF (410)"]}}],
      "layer": [
        {
          "mark": {"type": "errorbar", "thickness": 2.5},
          "encoding": {
            "x": {"field": "x", "type": "quantitative", "scale": {"domain": [-0.144, 3.148], "nice": false, "zero": false},
                  "axis": {"orient": "bottom", "values": [0, 0.5, 1, 1.5, 2, 2.5, 3], "tickSize": -10, "tickWidth": 1.5, "labels": false, "title": null}},
            "y": {"field": "y", "type": "quantitative", "scale": {"domain": [0.262, 1.363], "nice": false, "zero": false},
                  "axis": {"orient": "left", "values": [0.4, 0.6, 0.8, 1.0, 1.2], "format": ".1f", "tickSize": -10, "tickWidth": 1.5, "labelFontSize": 25, "labelPadding": 17, "title": "σLOS/σclu", "titleFontSize": 38, "titlePadding": 10, "titleY": 313}},
            "yError": {"field": "e"},
            "color": {"field": "s", "type": "nominal",
                      "scale": {"domain": ["E (232)", "S0-PS (452)", "S0-AC+TR (111)", "Sa+Sb (657)", "Sc+Sd (125)", "SF (410)"], "range": ["#000000", "#ff0000", "#6495ed", "#ffa500", "#800080", "#ff00ff"]}},
            "opacity": {"value": 0.3}
          }
        },
        {
          "mark": {"type": "line", "strokeWidth": 2.5, "interpolate": "monotone"},
          "encoding": {
            "x": {"field": "x", "type": "quantitative", "axis": {"orient": "bottom", "values": [-0.1, 0.1, 0.2, 0.3, 0.4, 0.6, 0.7, 0.8, 0.9, 1.1, 1.2, 1.3, 1.4, 1.6, 1.7, 1.8, 1.9, 2.1, 2.2, 2.3, 2.4, 2.6, 2.7, 2.8, 2.9, 3.1], "tickSize": -5, "tickWidth": 1, "tickColor": "#666666", "labels": false, "title": null}},
            "y": {"field": "y", "type": "quantitative", "axis": {"orient": "left", "values": [0.3, 0.35, 0.45, 0.5, 0.55, 0.65, 0.7, 0.75, 0.85, 0.9, 0.95, 1.05, 1.1, 1.15, 1.25, 1.3, 1.35], "tickSize": -5, "tickWidth": 1, "tickColor": "#666666", "labels": false, "title": null}},
            "color": {"field": "s", "type": "nominal",
                      "scale": {"domain": ["E (232)", "S0-PS (452)", "S0-AC+TR (111)", "Sa+Sb (657)", "Sc+Sd (125)", "SF (410)"], "range": ["#000000", "#ff0000", "#6495ed", "#ffa500", "#800080", "#ff00ff"]},
                      "legend": {"orient": "none", "legendX": 780, "legendY": 16, "title": null, "symbolType": "M-1.5,0H1.5", "symbolOpacity": 1, "labelLimit": 0, "labelFontSize": 27}}
          }
        },
        {
          "mark": {"type": "point", "opacity": 0},
          "encoding": {
            "x": {"field": "x", "type": "quantitative", "axis": {"orient": "top", "values": [0, 0.5, 1, 1.5, 2, 2.5, 3], "tickSize": -10, "tickWidth": 1.5, "labels": false, "title": null}},
            "y": {"field": "y", "type": "quantitative", "axis": {"orient": "right", "values": [0.4, 0.6, 0.8, 1.0, 1.2], "tickSize": -10, "tickWidth": 1.5, "labels": false, "title": null}}
          }
        },
        {
          "mark": {"type": "point", "opacity": 0},
          "encoding": {
            "x": {"field": "x", "type": "quantitative", "axis": {"orient": "top", "values": [-0.1, 0.1, 0.2, 0.3, 0.4, 0.6, 0.7, 0.8, 0.9, 1.1, 1.2, 1.3, 1.4, 1.6, 1.7, 1.8, 1.9, 2.1, 2.2, 2.3, 2.4, 2.6, 2.7, 2.8, 2.9, 3.1], "tickSize": -5, "tickWidth": 1, "tickColor": "#666666", "labels": false, "title": null}},
            "y": {"field": "y", "type": "quantitative", "axis": {"orient": "right", "values": [0.3, 0.35, 0.45, 0.5, 0.55, 0.65, 0.7, 0.75, 0.85, 0.9, 0.95, 1.05, 1.1, 1.15, 1.25, 1.3, 1.35], "tickSize": -5, "tickWidth": 1, "tickColor": "#666666", "labels": false, "title": null}}
          }
        }
      ],
      "resolve": {"axis": {"x": "independent", "y": "independent"}}
    },
    {
      "width": 1096,
      "height": 580,
      "transform": [{"filter": {"field": "s", "oneOf": ["E (232)", "S0-QS (382)", "S0-GV (98)", "S0-MS (83)", "Sa+Sb (657)", "Sc+Sd (125)", "SF (410)"]}}],
      "layer": [
        {
          "mark": {"type": "errorbar", "thickness": 2.5},
          "encoding": {
            "x": {"field": "x", "type": "quantitative", "scale": {"domain": [-0.144, 3.148], "nice": false, "zero": false},
                  "axis": {"orient": "bottom", "values": [0, 0.5, 1, 1.5, 2, 2.5, 3], "format": ".1f", "tickSize": -10, "tickWidth": 1.5, "labelFontSize": 25, "labelPadding": 14, "title": "Rₚᵣₒⱼ/Rᵥᵢᵣ", "titleFontSize": 48, "titlePadding": 6}},
            "y": {"field": "y", "type": "quantitative", "scale": {"domain": [0.262, 1.363], "nice": false, "zero": false},
                  "axis": {"orient": "left", "values": [0.4, 0.6, 0.8, 1.0, 1.2], "format": ".1f", "tickSize": -10, "tickWidth": 1.5, "labelFontSize": 25, "labelPadding": 17, "title": "σLOS/σclu", "titleFontSize": 38, "titlePadding": 10, "titleY": 313}},
            "yError": {"field": "e"},
            "color": {"field": "s", "type": "nominal",
                      "scale": {"domain": ["E (232)", "S0-QS (382)", "S0-GV (98)", "S0-MS (83)", "Sa+Sb (657)", "Sc+Sd (125)", "SF (410)"], "range": ["#000000", "#ff0000", "#008000", "#0000ff", "#ffa500", "#800080", "#ff00ff"]}},
            "opacity": {"value": 0.3}
          }
        },
        {
          "mark": {"type": "line", "strokeWidth": 2.5, "interpolate": "monotone"},
          "encoding": {
            "x": {"field": "x", "type": "quantitative", "axis": {"orient": "bottom", "values": [-0.1, 0.1, 0.2, 0.3, 0.4, 0.6, 0.7, 0.8, 0.9, 1.1, 1.2, 1.3, 1.4, 1.6, 1.7, 1.8, 1.9, 2.1, 2.2, 2.3, 2.4, 2.6, 2.7, 2.8, 2.9, 3.1], "tickSize": -5, "tickWidth": 1, "tickColor": "#666666", "labels": false, "title": null}},
            "y": {"field": "y", "type": "quantitative", "axis": {"orient": "left", "values": [0.3, 0.35, 0.45, 0.5, 0.55, 0.65, 0.7, 0.75, 0.85, 0.9, 0.95, 1.05, 1.1, 1.15, 1.25, 1.3, 1.35], "tickSize": -5, "tickWidth": 1, "tickColor": "#666666", "labels": false, "title": null}},
            "color": {"field": "s", "type": "nominal",
                      "scale": {"domain": ["E (232)", "S0-QS (382)", "S0-GV (98)", "S0-MS (83)", "Sa+Sb (657)", "Sc+Sd (125)", "SF (410)"], "range": ["#000000", "#ff0000", "#008000", "#0000ff", "#ffa500", "#800080", "#ff00ff"]},
                      "legend": {"orient": "none", "legendX": 832, "legendY": 13, "title": null, "symbolType": "M-1.5,0H1.5", "symbolOpacity": 1, "labelLimit": 0, "labelFontSize": 27}}
          }
        },
        {
          "mark": {"type": "point", "opacity": 0},
          "encoding": {
            "x": {"field": "x", "type": "quantitative", "axis": {"orient": "top", "values": [0, 0.5, 1, 1.5, 2, 2.5, 3], "tickSize": -10, "tickWidth": 1.5, "labels": false, "title": null}},
            "y": {"field": "y", "type": "quantitative", "axis": {"orient": "right", "values": [0.4, 0.6, 0.8, 1.0, 1.2], "tickSize": -10, "tickWidth": 1.5, "labels": false, "title": null}}
          }
        },
        {
          "mark": {"type": "point", "opacity": 0},
          "encoding": {
            "x": {"field": "x", "type": "quantitative", "axis": {"orient": "top", "values": [-0.1, 0.1, 0.2, 0.3, 0.4, 0.6, 0.7, 0.8, 0.9, 1.1, 1.2, 1.3, 1.4, 1.6, 1.7, 1.8, 1.9, 2.1, 2.2, 2.3, 2.4, 2.6, 2.7, 2.8, 2.9, 3.1], "tickSize": -5, "tickWidth": 1, "tickColor": "#666666", "labels": false, "title": null}},
            "y": {"field": "y", "type": "quantitative", "axis": {"orient": "right", "values": [0.3, 0.35, 0.45, 0.5, 0.55, 0.65, 0.7, 0.75, 0.85, 0.9, 0.95, 1.05, 1.1, 1.15, 1.25, 1.3, 1.35], "tickSize": -5, "tickWidth": 1, "tickColor": "#666666", "labels": false, "title": null}}
          }
        }
      ],
      "resolve": {"axis": {"x": "independent", "y": "independent"}}
    }
  ],
  "resolve": {"scale": {"color": "independent", "x": "independent", "y": "independent"}, "legend": {"color": "independent"}}
}
